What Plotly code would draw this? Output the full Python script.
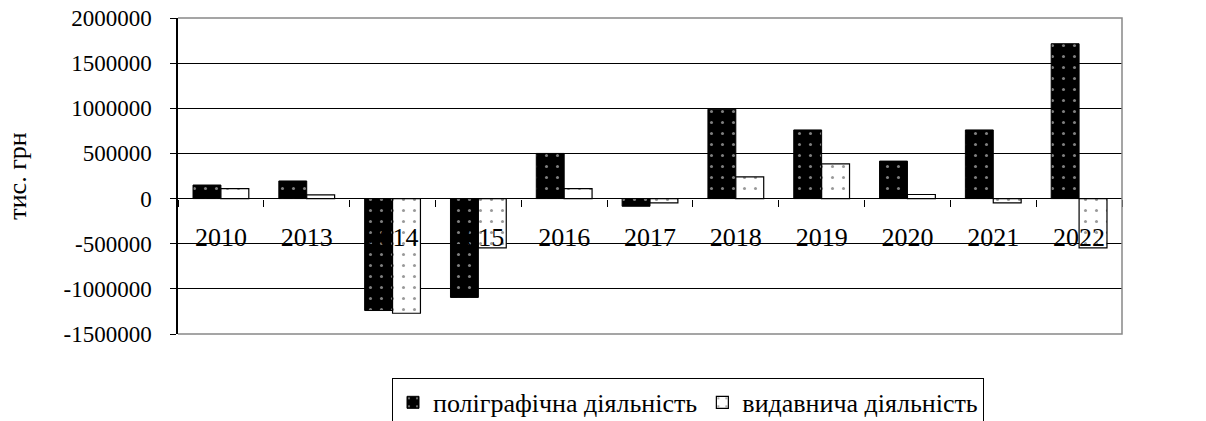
import plotly.graph_objects as go

years = ["2010", "2013", "2014", "2015", "2016", "2017", "2018", "2019", "2020", "2021", "2022"]
printing = [150000, 195000, -1240000, -1095000, 500000, -85000, 990000, 760000, 415000, 760000, 1715000]
publishing = [110000, 40000, -1270000, -545000, 110000, -48000, 240000, 385000, 45000, -48000, -545000]
y_tick_vals = [-1500000, -1000000, -500000, 0, 500000, 1000000, 1500000, 2000000]
y_tick_text = ["-1500000", "-1000000", "-500000", "0", "500000", "1000000", "1500000", "2000000"]
name_printing = "поліграфічна діяльність"
name_publishing = "видавнича діяльність"
y_title = "тис. грн"

FONT = "Liberation Serif"

fig = go.Figure()
fig.add_trace(go.Bar(
    x=years, y=printing, name=name_printing,
    marker=dict(color="black", line=dict(color="black", width=1),
                pattern=dict(shape=".", fgcolor="white", bgcolor="black", size=11, solidity=0.06)),
))
fig.add_trace(go.Bar(
    x=years, y=publishing, name=name_publishing,
    marker=dict(color="white", line=dict(color="black", width=1.2),
                pattern=dict(shape=".", fgcolor="#333", bgcolor="white", size=11, solidity=0.06)),
))

fig.update_layout(
    width=1206, height=421,
    margin=dict(l=178, r=84, t=18, b=87, autoexpand=False),
    paper_bgcolor="white", plot_bgcolor="white",
    barmode="group", bargap=0.35, bargroupgap=0,
    font=dict(family=FONT, color="black", size=22),
    showlegend=True,
    legend=dict(orientation="h", x=0.2267, y=-0.139, xanchor="left", yanchor="top",
                bordercolor="black", borderwidth=1, bgcolor="white",
                font=dict(family=FONT, size=26, color="black"),
                itemwidth=30, tracegroupgap=0),
    xaxis=dict(
        type="category", anchor="free", position=1.5 / 3.5,
        showline=False, showgrid=False, zeroline=False,
        ticks="outside", ticklen=7, tickcolor="black", tickwidth=1,
        tickson="boundaries", ticklabelstandoff=20,
        tickfont=dict(family=FONT, size=26, color="black"),
        layer="above traces",
    ),
    yaxis=dict(
        range=[-1500000, 2000000], domain=[0, 1],
        tickvals=y_tick_vals, ticktext=y_tick_text,
        showgrid=True, gridcolor="black", gridwidth=1,
        zeroline=True, zerolinecolor="black", zerolinewidth=1,
        showline=True, linecolor="black", linewidth=1.5,
        ticks="outside", ticklen=6, tickcolor="black",
        ticklabelstandoff=14, ticklabeloverflow="allow",
        tickfont=dict(family=FONT, size=23, color="black"),
        title=dict(text=y_title, font=dict(family=FONT, size=26, color="black"), standoff=29),
        automargin=False,
    ),
    shapes=[dict(type="path", xref="paper", yref="paper",
                 path="M 0,1 L 1,1 L 1,0 L 0,0", line=dict(color="#888", width=1.5), layer="above")],
)

fig.write_html("out.html", config={"displayModeBar": False},
               post_script="document.body.style.margin='0px';document.body.style.overflow='hidden';")
